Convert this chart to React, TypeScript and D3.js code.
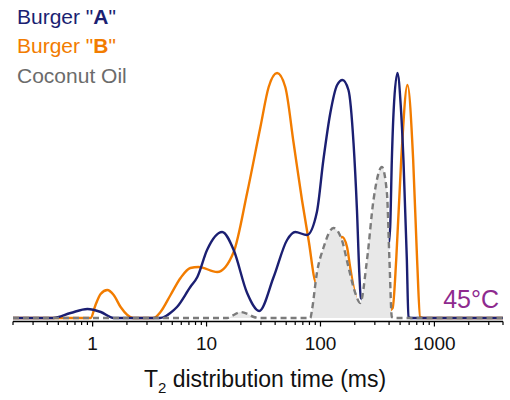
import React, { useEffect, useRef } from 'react'
import * as d3 from 'd3'

// [T2 (ms), signal (a.u.)]
const burgerA: [number, number][] = [
  [0.2, 0], [0.45, 0], [0.64, 5], [0.9, 9], [1.18, 6], [1.53, 0], [3.9, 0], [4.4, 2],
  [4.8, 5], [5.5, 11], [7.2, 31], [8.3, 41], [10.1, 68], [13.7, 86], [17.3, 68],
  [22.7, 25], [29, 7], [38.8, 41], [50.9, 78], [60, 86], [76, 83], [93, 106],
  [106, 158], [122, 205], [140, 233], [156, 238], [176, 228], [195, 175], [209, 108],
  [220, 41], [226, 20], [260, 16], [310, 24], [393, 71], [409, 91], [423, 158],
  [439, 208], [474, 245], [506, 213], [535, 158], [573, 58], [592, 1], [620, 0], [4000, 0],
]

const burgerB: [number, number][] = [
  [0.2, 0], [0.96, 0], [1.06, 13], [1.175, 24], [1.345, 28], [1.53, 23], [1.76, 11],
  [2.27, 0], [3.42, 0], [3.94, 6], [4.83, 23], [5.91, 40], [7.2, 50], [8.5, 51],
  [12.4, 46], [17.3, 66], [22.7, 125], [29.7, 191], [35.1, 231], [41.6, 245], [49.1, 231],
  [58.1, 175], [68.8, 118], [78.6, 78], [91.9, 35], [106, 50], [120, 62], [135, 72],
  [155, 81], [171, 71], [182, 51], [195, 31], [209, 16], [240, 8], [300, 6], [380, 6],
  [430, 10], [462, 58], [511, 158], [580, 233], [651, 158], [705, 58], [749, 1],
  [800, 0], [4000, 0],
]

const coconutOil: [number, number][] = [
  [0.2, 0], [15.2, 0], [17.3, 3], [19.8, 6], [23, 4], [26, 1], [29.7, 0], [81.4, 0],
  [84.2, 8], [93, 45], [106, 70], [130, 90], [154, 78], [176, 51], [202, 25], [223, 15],
  [256, 58], [292, 118], [346, 151], [383, 125], [403, 58], [423, 1], [440, 0], [4000, 0],
]

const majorTicks = [1, 10, 100, 1000]
const legendItems = [
  { label: 'Burger "', bold: 'A', tail: '"', color: '#1b1f72' },
  { label: 'Burger "', bold: 'B', tail: '"', color: '#f27c00' },
  { label: 'Coconut Oil', bold: '', tail: '', color: '#6b6b6b' },
]

const font = "'Liberation Sans', Arial, sans-serif"

export default function App() {
  const svgRef = useRef<SVGSVGElement>(null)

  useEffect(() => {
    if (!svgRef.current) return
    const svg = d3.select(svgRef.current)
    svg.selectAll('*').remove()

    const x = d3.scaleLog().domain([0.2, 4000]).range([13, 503])
    const y = d3.scaleLinear().domain([0, 250]).range([318, 68])
    const axisY = 321.5

    const line = d3.line<[number, number]>()
      .x(d => x(d[0]))
      .y(d => y(d[1]))
      .curve(d3.curveMonotoneX)

    const area = d3.area<[number, number]>()
      .x(d => x(d[0]))
      .y0(y(0))
      .y1(d => y(d[1]))
      .curve(d3.curveMonotoneX)

    // burger curves first, the oil fill covers them
    svg.append('path')
      .datum(burgerB)
      .attr('fill', 'none')
      .attr('stroke', '#f27c00')
      .attr('stroke-width', 2.4)
      .attr('d', line)

    svg.append('path')
      .datum(burgerA)
      .attr('fill', 'none')
      .attr('stroke', '#1b1f72')
      .attr('stroke-width', 2.4)
      .attr('d', line)

    svg.append('path')
      .datum(coconutOil)
      .attr('fill', '#e8e8e8')
      .attr('d', area)

    svg.append('path')
      .datum(coconutOil)
      .attr('fill', 'none')
      .attr('stroke', '#7b7b7b')
      .attr('stroke-width', 2.4)
      .attr('stroke-dasharray', '6 4')
      .attr('d', line)

    // x axis
    const g = svg.append('g')
    g.append('line')
      .attr('x1', 13)
      .attr('x2', 503)
      .attr('y1', axisY)
      .attr('y2', axisY)
      .attr('stroke', '#000')
      .attr('stroke-width', 1.5)

    g.selectAll('.tick')
      .data(x.ticks())
      .enter()
      .append('line')
      .attr('class', 'tick')
      .attr('x1', d => x(d))
      .attr('x2', d => x(d))
      .attr('y1', axisY)
      .attr('y2', d => axisY + (majorTicks.includes(d) ? 5 : 3.5))
      .attr('stroke', '#000')
      .attr('stroke-width', 1.2)

    g.selectAll('.tick-label')
      .data(majorTicks)
      .enter()
      .append('text')
      .attr('class', 'tick-label')
      .attr('x', d => x(d))
      .attr('y', 350)
      .attr('text-anchor', 'middle')
      .style('font-family', font)
      .style('font-size', '19px')
      .attr('fill', '#111')
      .text(d => String(d))

    const title = svg.append('text')
      .attr('x', 265)
      .attr('y', 387)
      .attr('text-anchor', 'middle')
      .style('font-family', font)
      .style('font-size', '23px')
      .attr('fill', '#111')
    title.append('tspan').text('T')
    title.append('tspan').attr('dy', 6).style('font-size', '15px').text('2')
    title.append('tspan').attr('dy', -6).text(' distribution time (ms)')

    svg.append('text')
      .attr('x', 499)
      .attr('y', 308)
      .attr('text-anchor', 'end')
      .style('font-family', font)
      .style('font-size', '25px')
      .attr('fill', '#8e2a8e')
      .text('45°C')

    // legend
    legendItems.forEach((item, i) => {
      const t = svg.append('text')
        .attr('x', 17)
        .attr('y', 23.5 + i * 29.5)
        .style('font-family', font)
        .style('font-size', '21px')
        .attr('fill', item.color)
      t.append('tspan').text(item.label)
      if (item.bold) t.append('tspan').style('font-weight', 'bold').text(item.bold)
      if (item.tail) t.append('tspan').text(item.tail)
    })
  }, [])

  return (
    <svg
      ref={svgRef}
      width={510}
      height={400}
      style={{ position: 'absolute', left: 0, top: 0, background: '#fff' }}
    />
  )
}
